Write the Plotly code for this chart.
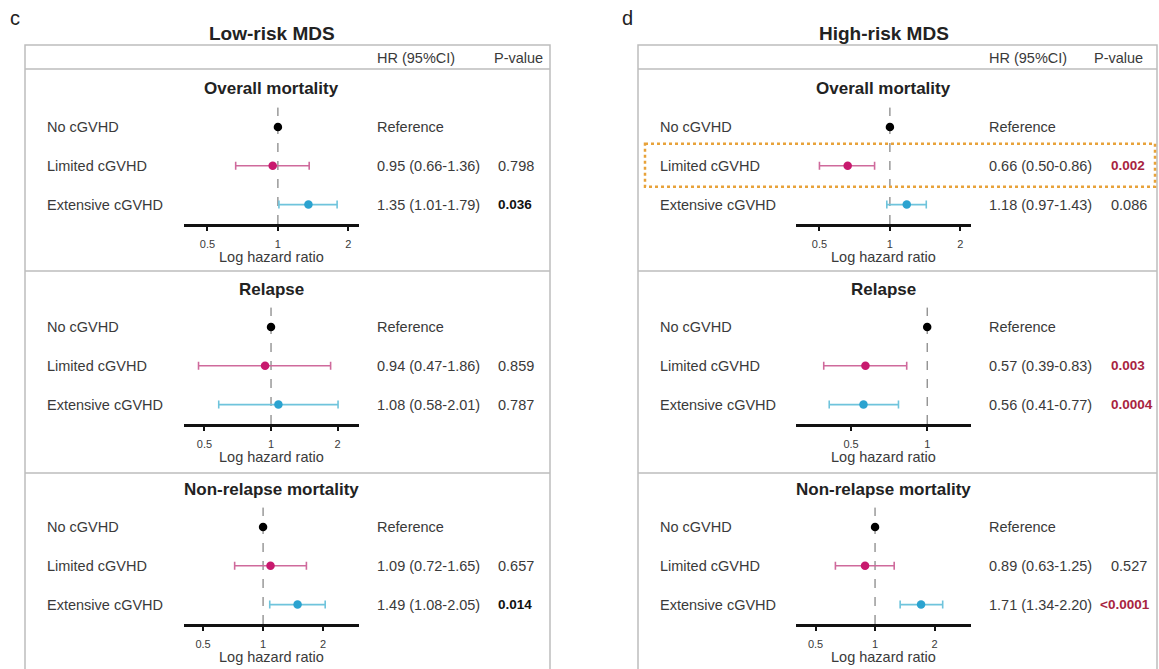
import math
import plotly.graph_objects as go

# ---------------- data ----------------
panel_titles = ["Low-risk MDS", "High-risk MDS"]
panel_letters = ["c", "d"]
outcomes = ["Overall mortality", "Relapse", "Non-relapse mortality"]
groups = ["No cGVHD", "Limited cGVHD", "Extensive cGVHD"]

low_hr = [[1.00, 0.95, 1.35], [1.00, 0.94, 1.08], [1.00, 1.09, 1.49]]
low_lo = [[1.00, 0.66, 1.01], [1.00, 0.47, 0.58], [1.00, 0.72, 1.08]]
low_hi = [[1.00, 1.36, 1.79], [1.00, 1.86, 2.01], [1.00, 1.65, 2.05]]
low_p = [["", "0.798", "0.036"], ["", "0.859", "0.787"], ["", "0.657", "0.014"]]

high_hr = [[1.00, 0.66, 1.18], [1.00, 0.57, 0.56], [1.00, 0.89, 1.71]]
high_lo = [[1.00, 0.50, 0.97], [1.00, 0.39, 0.41], [1.00, 0.63, 1.34]]
high_hi = [[1.00, 0.86, 1.43], [1.00, 0.83, 0.77], [1.00, 1.25, 2.20]]
high_p = [["", "0.002", "0.086"], ["", "0.003", "0.0004"], ["", "0.527", "<0.0001"]]

# axis limits of each sub-panel (hazard ratio, log scale)
low_xrange = [[0.397, 2.22], [0.404, 2.50], [0.401, 3.03]]
high_xrange = [[0.397, 2.22], [0.303, 1.49], [0.398, 3.06]]
tick_vals = [0.5, 1, 2]
tick_text = ["0.5", "1", "2"]

# highlighted row: (panel, outcome, group)
highlight = [(1, 0, 1)]

# ---------------- style ----------------
W, H = 1159, 669
FONT = "Liberation Sans, Arial, sans-serif"
TXT = "#3a3a3a"
dot_colors = ["#000000", "#C8196E", "#2BA3D0"]
bar_colors = ["#000000", "#CF6A9C", "#6FC4DC"]
sig_colors = ["#111111", "#A8243F"]
box_color = "#BDBDBD"
BODY = 14.5

panel_dx = 612          # horizontal offset of panel d
axis_x = (184, 359)     # axis span in panel c (px)
box_x = (25, 550)
row1 = [127, 327, 527]  # first row y (px) of each sub-panel
row_gap = 38.8
label_x = [45, 658]
hr_col_x = [375, 987]
p_head_x = [492, 1092]
p_col_x = [496, 1109]


def fx(x):
    return x / W


def fy(y):
    return 1 - y / H


def label(text, x, y, size=BODY, color=TXT, xanchor="left"):
    return dict(text=text, x=fx(x), y=fy(y), xref="paper", yref="paper",
                showarrow=False, xanchor=xanchor, yanchor="middle",
                font=dict(size=size, color=color, family=FONT))


fig = go.Figure()
annotations = []
shapes = []

data = [(low_hr, low_lo, low_hi, low_p, low_xrange),
        (high_hr, high_lo, high_hi, high_p, high_xrange)]

for pi in range(2):
    dx = pi * panel_dx
    hr, lo, hi, pv, xr = data[pi]
    bx0 = box_x[0] + dx + (1 if pi else 0)
    bx1 = min(box_x[1] + dx, W - 2)
    # outer box, header line and separators
    shapes.append(dict(type="rect", xref="paper", yref="paper",
                       x0=fx(bx0), x1=fx(bx1), y0=fy(45), y1=fy(H + 20),
                       line=dict(color=box_color, width=1.5), layer="below"))
    for ly in (69, 271, 473):
        shapes.append(dict(type="line", xref="paper", yref="paper",
                           x0=fx(bx0), x1=fx(bx1), y0=fy(ly), y1=fy(ly),
                           line=dict(color=box_color, width=1.5), layer="below"))
    cx = (axis_x[0] + axis_x[1]) / 2 + dx
    annotations.append(label(f"<b>{panel_titles[pi]}</b>", cx, 33, 19, "#222", "center"))
    annotations.append(label(panel_letters[pi], 15 + dx, 18, 20, "#222", "center"))
    annotations.append(label("HR (95%CI)", hr_col_x[pi], 58))
    annotations.append(label("P-value", p_head_x[pi], 58))

    for oi in range(3):
        n = pi * 3 + oi + 1
        r1 = row1[oi]
        top = r1 - row_gap / 2
        bottom = r1 + 2 * row_gap + row_gap / 2
        xa = "xaxis" if n == 1 else f"xaxis{n}"
        ya = "yaxis" if n == 1 else f"yaxis{n}"
        xref = "x" if n == 1 else f"x{n}"
        yref = "y" if n == 1 else f"y{n}"
        fig.update_layout(**{
            xa: dict(type="log", domain=[fx(axis_x[0] + dx), fx(axis_x[1] + dx)],
                     range=[math.log10(xr[oi][0]), math.log10(xr[oi][1])],
                     anchor=yref, showline=True, linewidth=2.5, linecolor="#111",
                     ticks="outside", ticklen=4, tickwidth=2, tickcolor="#111",
                     tickvals=tick_vals, ticktext=tick_text, ticklabelstandoff=4,
                     tickfont=dict(size=11, color=TXT, family=FONT),
                     showgrid=False, zeroline=False, fixedrange=True),
            ya: dict(domain=[fy(bottom), fy(top)], range=[2.5, -0.5], anchor=xref,
                     visible=False, fixedrange=True),
        })
        # reference dashed line
        shapes.append(dict(type="line", xref=xref, yref=f"{yref} domain",
                           x0=1, x1=1, y0=0, y1=1,
                           line=dict(color="#666", width=1, dash="dash"), layer="below"))
        annotations.append(label(f"<b>{outcomes[oi]}</b>", cx, r1 - 38, 17, "#222", "center"))
        annotations.append(label("Log hazard ratio", cx, bottom + 33, BODY, TXT, "center"))
        for gi in range(3):
            ry = r1 + gi * row_gap
            v, l, h = hr[oi][gi], lo[oi][gi], hi[oi][gi]
            tr = dict(x=[v], y=[gi], mode="markers", xaxis=xref, yaxis=yref,
                      marker=dict(size=8.5, color=dot_colors[gi]), hoverinfo="skip",
                      showlegend=False)
            if gi > 0:
                tr["error_x"] = dict(type="data", symmetric=False, array=[h - v],
                                     arrayminus=[v - l], color=bar_colors[gi],
                                     thickness=1.6, width=4)
            fig.add_trace(go.Scatter(**tr))
            annotations.append(label(groups[gi], label_x[pi], ry))
            hr_txt = "Reference" if gi == 0 else f"{v:.2f} ({l:.2f}-{h:.2f})"
            annotations.append(label(hr_txt, hr_col_x[pi], ry))
            p = pv[oi][gi]
            if p:
                pnum = float(p.lstrip("<"))
                sig = pnum < 0.05
                ptxt = f"<b>{p}</b>" if sig else p
                pcol = sig_colors[pi] if sig else TXT
                px_ = p_col_x[pi] - (11 if p.startswith("<") else 0)
                annotations.append(label(ptxt, px_, ry, 13.5 if sig else BODY, pcol))
            if (pi, oi, gi) in highlight:
                shapes.append(dict(type="rect", xref="paper", yref="paper",
                                   x0=fx(bx0 + 7), x1=fx(bx1 - 2),
                                   y0=fy(ry - 22), y1=fy(ry + 21),
                                   line=dict(color="#E8A23A", width=2.5, dash="dot")))

fig.update_layout(width=W, height=H, margin=dict(l=0, r=0, t=0, b=0),
                  paper_bgcolor="white", plot_bgcolor="rgba(0,0,0,0)",
                  showlegend=False, annotations=annotations, shapes=shapes,
                  font=dict(family=FONT))

fig.write_html("out.html", config={"displayModeBar": False},
               post_script="document.body.style.margin='0';document.body.style.overflow='hidden';")
